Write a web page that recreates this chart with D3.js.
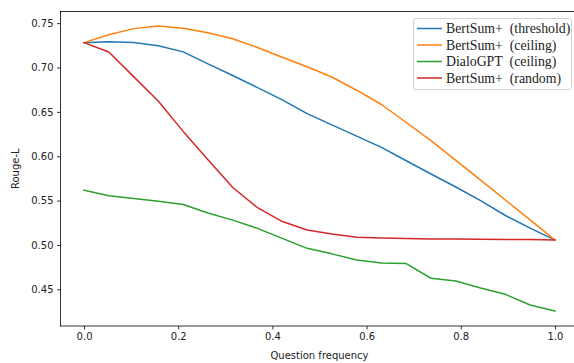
<!DOCTYPE html>
<html><head><meta charset="utf-8">
<script src="https://cdn.jsdelivr.net/npm/d3@7"></script>
<style>body{margin:0;background:#fff;overflow:hidden}svg{display:block}</style>
</head><body>
<svg id="c" width="574" height="363"></svg>
<script>
const xValues = [0,1,2,3,4,5,6,7,8,9,10,11,12,13,14,15,16,17,18,19].map(i => i/19);
const seriesNames = ["BertSum+\u2002(threshold)", "BertSum+\u2002(ceiling)", "DialoGPT\u2002(ceiling)", "BertSum+\u2002(random)"];
const threshold = [0.728,0.729,0.7283,0.7246,0.7176,0.704,0.691,0.6774,0.6636,0.648,0.6354,0.6227,0.610,0.5949,0.580,0.5653,0.550,0.5332,0.519,0.5055];
const ceiling   = [0.728,0.7369,0.7438,0.7468,0.7443,0.7392,0.7324,0.7225,0.7115,0.7008,0.6893,0.6744,0.6583,0.638,0.6176,0.5953,0.573,0.5507,0.5282,0.5055];
const dialo     = [0.5618,0.5554,0.5525,0.5494,0.5457,0.536,0.528,0.5187,0.5075,0.4962,0.490,0.483,0.4797,0.479,0.4625,0.4594,0.4515,0.4444,0.4324,0.4256];
const random    = [0.728,0.7174,0.6897,0.662,0.628,0.596,0.5648,0.542,0.5264,0.5168,0.5123,0.5086,0.5078,0.5072,0.5068,0.5066,0.5064,0.5063,0.5062,0.5055];
const colors = ["#1f77b4", "#ff7f0e", "#2ca02c", "#d62728"];
const xTicks = [0, 0.2, 0.4, 0.6, 0.8, 1.0];
const yTicks = [0.45, 0.50, 0.55, 0.60, 0.65, 0.70, 0.75];

const svg = d3.select("#c");
const mLeft = 60.5, mRight = 578.5, mTop = 11.5, mBottom = 326;
const x = d3.scaleLinear().domain([-0.05, 1.05]).range([mLeft, mRight]);
const y = d3.scaleLinear().domain([0.4087, 0.7631]).range([mBottom, mTop]);

const allSeries = [threshold, ceiling, dialo, random];
const line = d3.line().x((d, i) => x(xValues[i])).y(d => y(d));
allSeries.forEach((s, k) => {
  svg.append("path").datum(s).attr("d", line)
    .attr("fill", "none").attr("stroke", colors[k]).attr("stroke-width", 1.5)
    .attr("stroke-linejoin", "round").attr("stroke-linecap", "square");
});

// frame
svg.append("rect").attr("x", mLeft).attr("y", mTop).attr("width", mRight - mLeft).attr("height", mBottom - mTop)
  .attr("fill", "none").attr("stroke", "#000").attr("stroke-width", 0.8);

const xAxis = svg.append("g").attr("transform", `translate(0,${mBottom})`)
  .call(d3.axisBottom(x).tickValues(xTicks).tickFormat(d3.format(".1f")).tickSize(3.5).tickPadding(3.5));
const yAxis = svg.append("g").attr("transform", `translate(${mLeft},0)`)
  .call(d3.axisLeft(y).tickValues(yTicks).tickFormat(d3.format(".2f")).tickSize(3.5).tickPadding(3.5));
[xAxis, yAxis].forEach(g => {
  g.select(".domain").remove();
  g.selectAll(".tick line").attr("stroke", "#000").attr("stroke-width", 0.8);
  g.selectAll("text").attr("fill", "#222").style("font-family", "DejaVu Sans").style("font-size", "10px");
});

svg.append("text").attr("x", (mLeft + mRight) / 2).attr("y", 359).attr("text-anchor", "middle")
  .style("font-family", "DejaVu Sans").style("font-size", "10px").attr("fill", "#222").text("Question frequency");
svg.append("text").attr("transform", `translate(19,${(mTop + mBottom) / 2}) rotate(-90)`).attr("text-anchor", "middle")
  .style("font-family", "DejaVu Sans").style("font-size", "10px").attr("fill", "#222").text("Rouge-L");

// legend
const lg = svg.append("g");
lg.append("rect").attr("x", 413.5).attr("y", 18.5).attr("width", 158).attr("height", 71).attr("rx", 2.5)
  .attr("fill", "#fff").attr("fill-opacity", 0.8).attr("stroke", "#d0d0d0").attr("stroke-width", 1);
seriesNames.forEach((n, k) => {
  const yy = 28.5 + k * 16.5;
  lg.append("line").attr("x1", 417).attr("x2", 442).attr("y1", yy).attr("y2", yy)
    .attr("stroke", colors[k]).attr("stroke-width", 1.5);
  lg.append("text").attr("x", 446).attr("y", yy + 4.5).text(n)
    .style("font-family", "Liberation Serif").style("font-size", "13.8px").attr("fill", "#222");
});
</script>
</body></html>
